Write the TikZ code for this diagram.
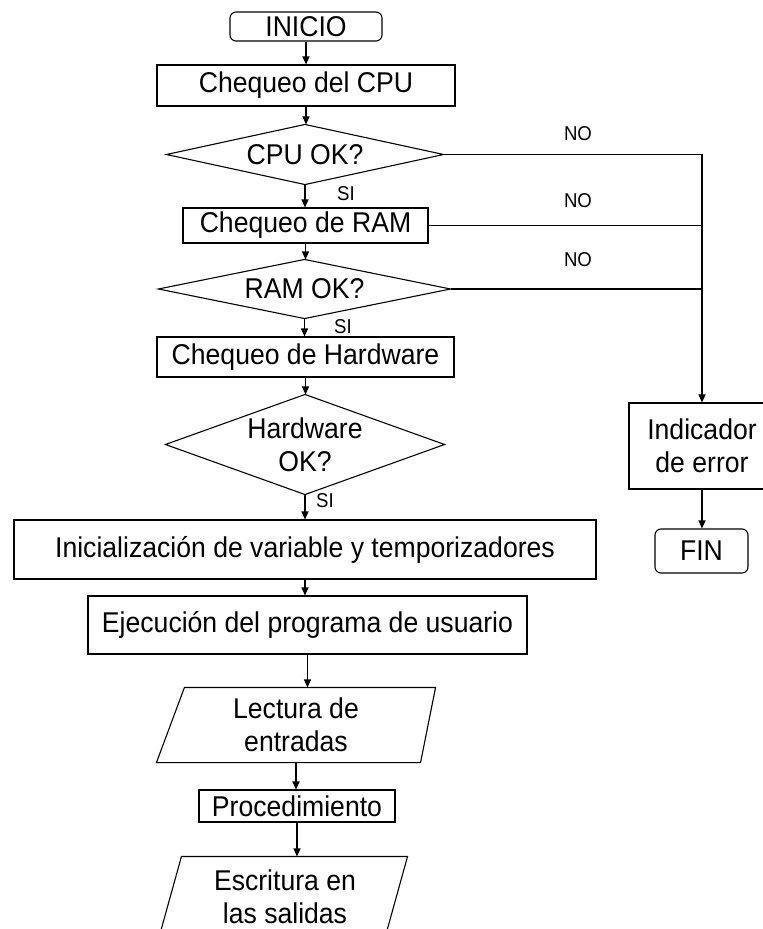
\documentclass[tikz,border=0pt]{standalone}
\usepackage{fontspec}
\setmainfont{Liberation Sans}[FakeStretch=0.93]
\usetikzlibrary{arrows.meta}
\begin{document}
\begin{tikzpicture}[x=1pt,y=-1pt,
  line width=1.1pt,
  txt/.style={inner sep=0pt, align=center, font=\fontsize{28.6}{33}\selectfont},
  shp/.style 2 args={txt, rectangle, minimum width=#1, minimum height=#2},
  pbox/.style 2 args={shp={#1}{#2}, draw},
  tbox/.style 2 args={shp={#1}{#2}, draw, rounded corners=6pt},
  lbl/.style={inner sep=0pt, font=\fontsize{20}{22}\selectfont},
  flow/.style={-{Triangle[length=8pt,width=7pt]}}
]
\useasboundingbox (0,0) rectangle (763,929);
\clip (0,0) rectangle (763,929);

% main column
\node[tbox={152}{29}] (inicio) at (306,26.5) {INICIO};
\node[pbox={298}{41}] (cpu) at (306,85.5) {Chequeo del CPU};
\node[shp={276}{59}] (cpuok) at (305,154.5) {CPU OK?};
\node[pbox={245}{35}] (ram) at (305.5,225.5) {Chequeo de RAM};
\node[shp={291}{58}] (ramok) at (304.5,289) {RAM OK?};
\node[pbox={297}{40}] (hw) at (305.5,357) {Chequeo de Hardware};
\node[shp={278}{99}] (hwok) at (305,444.5) {Hardware\\OK?};
\node[pbox={582}{59}] (init) at (305,549.5) {Inicialización de variable y temporizadores};
\node[pbox={439}{58}] (ejec) at (307.5,625) {Ejecución del programa de usuario};
\node[shp={278}{74}] (lect) at (296,725) {Lectura de\\entradas};
\node[pbox={196}{32}] (procd) at (297,806) {Procedimiento};
\node[shp={225}{80}] (escr) at (294.5,897) {};
\node[txt] (escrtxt) at (285,897) {Escritura en\\las salidas};

% error branch
\node[pbox={146}{86}] (indic) at (702,446) {Indicador\\de error};
\node[tbox={93}{44}] (fin) at (701.5,551) {FIN};

% decision outlines
\foreach \d in {cpuok,ramok,hwok}
  \draw (\d.west) -- (\d.north) -- (\d.east) -- (\d.south) -- cycle;

% input / output outlines
\draw ([xshift=28pt]lect.north west) -- (lect.north east)
  -- ([xshift=-15pt]lect.south east) -- (lect.south west) -- cycle;
\draw (escr.north west) -- (escr.north east)
  -- ([xshift=-22.5pt]escr.south east) -- ([xshift=-22.5pt]escr.south west) -- cycle;

% main flow
\draw[flow] (inicio.south) -- (inicio.south |- cpu.north);
\draw[flow] (cpu.south) -- (cpu.south |- cpuok.north);
\draw[flow] (cpuok.south) -- (cpuok.south |- ram.north);
\draw[flow] (ram.south) -- (ram.south |- ramok.north);
\draw[flow] (ramok.south) -- (ramok.south |- hw.north);
\draw[flow] (hw.south) -- (hw.south |- hwok.north);
\draw[flow] (hwok.south) -- (hwok.south |- init.north);
\draw[flow] (init.south) -- (init.south |- ejec.north);
\draw[flow] (ejec.south) -- (ejec.south |- lect.north);
\draw[flow] (lect.south) -- (lect.south |- procd.north);
\draw[flow] (procd.south) -- (procd.south |- escr.north);

% failure paths
\draw[flow] (cpuok.east) -| (indic.north);
\draw (ram.east) -- (ram.east -| indic.north);
\draw (ramok.east) -- (ramok.east -| indic.north);
\draw[flow] (indic.south) -- (indic.south |- fin.north);

% branch labels
\node[lbl] (no1) at (578,134) {NO};
\node[lbl] (no2) at (578,201) {NO};
\node[lbl] (no3) at (578,260) {NO};
\node[lbl] (si1) at (346,194) {SI};
\node[lbl] (si2) at (343,327) {SI};
\node[lbl] (si3) at (325,501) {SI};
\end{tikzpicture}
\end{document}
